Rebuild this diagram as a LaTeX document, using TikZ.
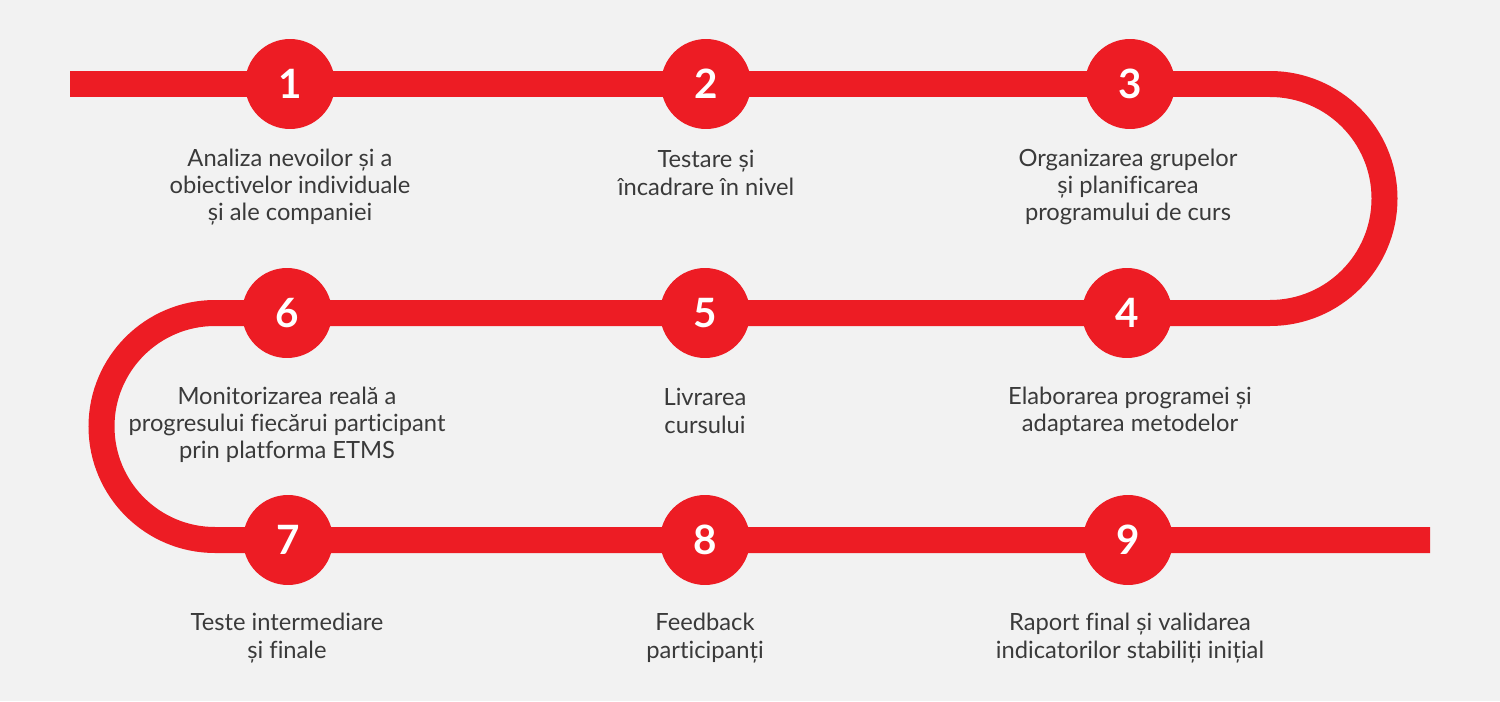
\documentclass[tikz,border=0pt]{standalone}
\usepackage{fontspec}
\setmainfont{Lato}[Ligatures=NoCommon]
\usetikzlibrary{positioning}
\definecolor{bandred}{HTML}{ED1C24}
\definecolor{bggray}{HTML}{F2F2F2}
\definecolor{txtgray}{HTML}{3A3A3A}
\tikzset{
  stepdot/.style={circle, fill=bandred, minimum size=1.8cm, inner sep=0pt,
                  text=white, font=\fontsize{23}{23}\selectfont\bfseries},
  steptext/.style={align=center, text=txtgray, font=\fontsize{13.5}{15.5}\selectfont},
  band/.style={draw=bandred, line width=0.52cm}
}
\begin{document}
\begin{tikzpicture}[x=0.02cm, y=0.02cm]

%Background
\fill[bggray] (0,0) rectangle (1500,701);
\useasboundingbox (0,0) rectangle (1500,701);

%Band
\coordinate (start) at (70,617);
\coordinate (finish) at (1430,161);
\draw[band] (start) -- (1270,617) arc (90:-90:114.5) -- (215,388) arc (90:270:113.5) -- (finish);

%Nodes
\node (n1) at (290,617) [stepdot] {1};
\node (n2) at (706,617) [stepdot] {2};
\node (n3) at (1130,617) [stepdot] {3};
\node (n4) at (1127,388) [stepdot] {4};
\node (n5) at (705,388) [stepdot] {5};
\node (n6) at (287,388) [stepdot] {6};
\node (n7) at (288,161) [stepdot] {7};
\node (n8) at (705,161) [stepdot] {8};
\node (n9) at (1128,161) [stepdot] {9};

%Labels
\node (t1) at (290,514) [steptext] {Analiza nevoilor și a\\obiectivelor individuale\\și ale companiei};
\node (t2) at (706,528) [steptext] {Testare și\\încadrare în nivel};
\node (t3) at (1128,514) [steptext] {Organizarea grupelor\\și planificarea\\programului de curs};
\node (t4) at (1130,290) [steptext] {Elaborarea programei și\\adaptarea metodelor};
\node (t5) at (705,290) [steptext] {Livrarea\\cursului};
\node (t6) at (287,276) [steptext] {Monitorizarea reală a\\progresului fiecărui participant\\prin platforma ETMS};
\node (t7) at (287,63) [steptext] {Teste intermediare\\și finale};
\node (t8) at (705,63) [steptext] {Feedback\\participanți};
\node (t9) at (1130,63) [steptext] {Raport final și validarea\\indicatorilor stabiliți inițial};

\end{tikzpicture}
\end{document}
